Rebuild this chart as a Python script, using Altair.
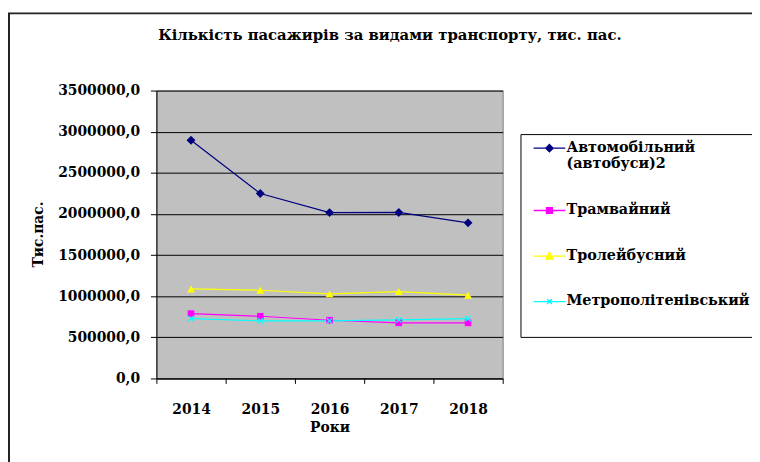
import altair as alt
import pandas as pd

years = [2014, 2015, 2016, 2017, 2018]
series = ["Автомобільний (автобуси)2", "Трамвайний", "Тролейбусний", "Метрополітенівський"]
auto = [2896000, 2248000, 2016000, 2018000, 1892000]
tram = [788000, 756000, 708000, 676000, 676000]
trolley = [1088000, 1072000, 1028000, 1056000, 1012000]
metro = [728000, 700000, 700000, 712000, 728000]
colors = ["#000080", "#FF00FF", "#FFFF00", "#00FFFF"]
y_ticks = [0, 500000, 1000000, 1500000, 2000000, 2500000, 3000000, 3500000]
x_ticks = [2013.5, 2014.5, 2015.5, 2016.5, 2017.5, 2018.5]
title_text = "Кількість пасажирів за видами транспорту, тис. пас."

rows = []
for name, vals in zip(series, [auto, tram, trolley, metro]):
    for yr, v in zip(years, vals):
        rows.append({"year": yr, "series": name, "value": v})
df = pd.DataFrame(rows)

FONT = "DejaVu Serif"

# marker shapes for the plotted points
point_shapes = ["diamond", "square", "triangle-up", "M-1,-1L1,1M-1,1L1,-1"]
point_sizes = [80, 45, 64, 30]
point_filled = [True, True, True, False]

# legend symbols: line with marker
legend_paths = [
    "M-3.2,0L3.2,0M0,-0.75L0.75,0L0,0.75L-0.75,0Z",
    "M-3.2,0L3.2,0M-0.6,-0.6L0.6,-0.6L0.6,0.6L-0.6,0.6Z",
    "M-3.2,0L3.2,0M0,-0.75L0.75,0.6L-0.75,0.6Z",
    "M-3.2,0L3.2,0M-0.5,-0.5L0.5,0.5M-0.5,0.5L0.5,-0.5",
]

color_scale = alt.Scale(domain=series, range=colors)

x_enc = alt.X(
    "year:Q",
    scale=alt.Scale(domain=[2013.5, 2018.5], nice=False, zero=False),
    axis=alt.Axis(
        values=x_ticks,
        labelExpr="datum.value < 2018 ? toString(datum.value + 0.5) : ''",
        labelOffset=35,
        labelFlush=False,
        labelOverlap=False,
        labelBaseline="middle",
        labelPadding=26,
        tickSize=5,
        grid=False,
        title="Роки",
        titleY=50,
        titleBaseline="middle",
    ),
)
y_enc = alt.Y(
    "value:Q",
    scale=alt.Scale(domain=[0, 3500000], nice=False),
    axis=alt.Axis(
        values=y_ticks,
        labelExpr="replace(format(datum.value, '.1f'), '.', ',')",
        labelPadding=11,
        labelFlush=False,
        tickSize=6,
        grid=True,
        title="Тис.пас.",
        titleAngle=270,
        titleX=-119,
        titleY=145,
        titleAlign="center",
        titleBaseline="middle",
    ),
)

legend_def = alt.Legend(
    title=" ",
    titleOrient="bottom",
    titleFontSize=14,
    titlePadding=8,
    orient="none",
    legendX=368,
    legendY=44,
    labelExpr="datum.value == 'Автомобільний (автобуси)2' ? ['Автомобільний', '(автобуси)2'] : datum.value",
)

base = alt.Chart(df)

lines = base.mark_line(strokeWidth=1.2).encode(
    x=x_enc, y=y_enc,
    color=alt.Color("series:N", scale=color_scale, legend=legend_def),
)

point_layers = []
for name, shp, sz, fl, col in zip(series, point_shapes, point_sizes, point_filled, colors):
    point_layers.append(
        base.transform_filter(alt.datum.series == name)
        .mark_point(filled=fl, shape=shp, size=sz, opacity=1, strokeWidth=1.3, color=col)
        .encode(x=x_enc, y=y_enc)
    )

legend_layer = base.mark_point(
    filled=False, opacity=0, strokeWidth=1.3
).encode(
    x=x_enc, y=y_enc,
    color=alt.Color("series:N", scale=color_scale, legend=legend_def),
    fill=alt.Fill("series:N", scale=color_scale, legend=legend_def),
    shape=alt.Shape("series:N", scale=alt.Scale(domain=series, range=legend_paths), legend=legend_def),
)

one = alt.Data(values=[{"k": 1}])
frame_left = alt.Chart(one).mark_rule(color="#222222", strokeWidth=2).encode(
    x=alt.value(-149), y=alt.value(-78), y2=alt.value(420)
)
frame_top = alt.Chart(one).mark_rule(color="#222222", strokeWidth=2).encode(
    x=alt.value(-150), x2=alt.value(700), y=alt.value(-78)
)
title = alt.Chart(one).mark_text(
    text=title_text, font=FONT, fontWeight="bold", fontSize=15, color="black",
    align="center", baseline="middle",
).encode(x=alt.value(236), y=alt.value(-56))

chart = alt.layer(
    frame_left, frame_top, title, lines, *point_layers, legend_layer
).properties(
    width=350, height=291,
    padding={"left": 150, "top": 81, "right": 252, "bottom": 82},
    autosize=alt.AutoSizeParams(type="none"),
    background="white",
).configure_view(
    fill="#C0C0C0", stroke="#808080", strokeWidth=1,
).configure_axis(
    domainColor="black", tickColor="black", gridColor="black", gridWidth=1,
    labelFont=FONT, labelFontSize=14, labelFontWeight="bold", labelColor="black",
    titleFont=FONT, titleFontSize=14, titleFontWeight="bold", titleColor="black",
    domainWidth=1, tickWidth=1,
).configure_legend(
    labelFont=FONT, labelFontSize=14.5, labelFontWeight="bold", labelColor="black",
    labelLimit=400, strokeColor="black", fillColor="white", padding=7,
    symbolSize=100, symbolStrokeWidth=1.3, symbolOffset=15, labelOffset=10,
    symbolOpacity=1, rowPadding=31, cornerRadius=0,
)

chart.save("out.html", embed_options={"renderer": "svg", "actions": False})
